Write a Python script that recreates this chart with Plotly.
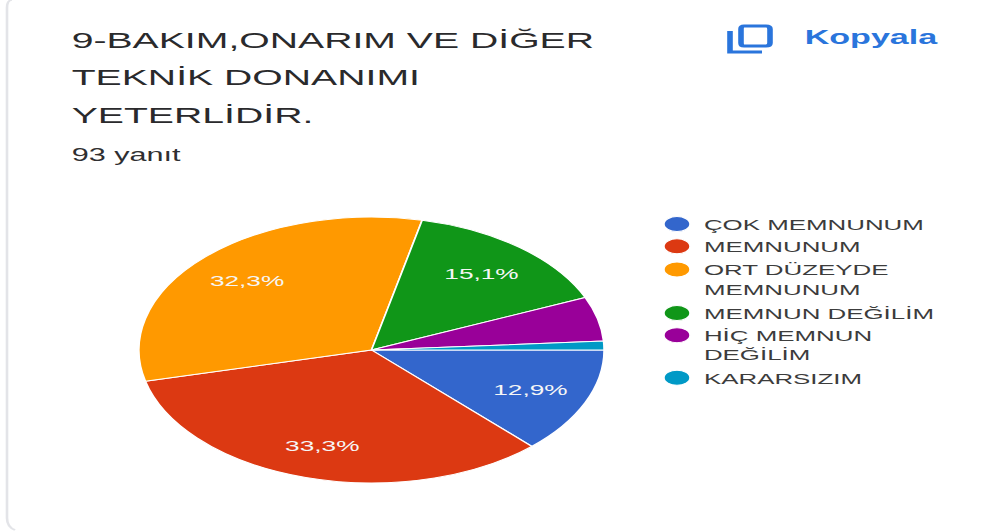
import math
import plotly.graph_objects as go

# Data
categories = ["ÇOK MEMNUNUM", "MEMNUNUM", "ORT DÜZEYDE<br>MEMNUNUM", "MEMNUN DEĞİLİM",
              "HİÇ MEMNUN<br>DEĞİLİM", "KARARSIZIM"]
counts = [12, 31, 30, 14, 5, 1]
slice_labels = ["12,9%", "33,3%", "32,3%", "15,1%", "", ""]
colors = ["#3366cc", "#dc3912", "#ff9900", "#109618", "#990099", "#0099c6"]
title_lines = ["9-BAKIM,ONARIM VE DİĞER", "TEKNİK DONANIMI", "YETERLİDİR."]
subtitle = "93 yanıt"
copy_label = "Kopyala"

# The reference is a screenshot stretched horizontally: lay out at natural
# proportions, then stretch the whole plot to the window width.
W, H = 574, 531
K = 1004 / W
FONT = "Liberation Sans"


def px(x):
    return x / K / W


def py(y):
    return 1 - y / H


cx, cy, r = 371.5, 350, 133
fig = go.Figure(go.Pie(
    labels=categories, values=counts, textinfo="none",
    sort=False, direction="clockwise", rotation=90,
    marker=dict(colors=colors, line=dict(color="white", width=1)),
    automargin=False, hoverinfo="label+percent",
    domain=dict(x=[px(cx) - r / W, px(cx) + r / W],
                y=[py(cy) - r / H, py(cy) + r / H]),
))

annotations = []
for line, y in zip(title_lines, [40, 78, 115]):
    annotations.append(dict(text=line, x=px(68), y=py(y), xanchor="left", yanchor="middle",
                            font=dict(family=FONT, size=22.4, color="#2a2a2c")))
annotations.append(dict(text=subtitle, x=px(68), y=py(155), xanchor="left", yanchor="middle",
                        font=dict(family=FONT, size=17.5, color="#2f2f31")))
annotations.append(dict(text=copy_label, x=px(801), y=py(37), xanchor="left", yanchor="middle",
                        font=dict(family=FONT, size=19.5, color="#2a75dc", weight="bold")))

# Slice labels sit on a fixed fraction of the radius, at each slice's mid-angle
total = sum(counts)
running = 0
for value, label in zip(counts, slice_labels):
    mid = (running + value / 2) / total * 2 * math.pi
    running += value
    if label:
        annotations.append(dict(
            text=label,
            x=px(cx) + 0.745 * r / W * math.cos(mid),
            y=py(cy) - 0.745 * r / H * math.sin(mid),
            xanchor="center", yanchor="middle",
            font=dict(family=FONT, size=15, color="#f6f6f6"),
        ))
for a in annotations:
    a.update(xref="paper", yref="paper", showarrow=False)


def P(x, y):
    return f"{px(x):.5f},{py(y):.5f}"


ICON = dict(color="#2a75dc", width=3.2)
shapes = [
    # card edge
    dict(type="path", xref="paper", yref="paper", line=dict(color="#e3e4e8", width=1.5),
         path=f"M{P(12, 0)} Q{P(7, 0)} {P(7, 8)} L{P(7, 518)} Q{P(7, 527)} {P(15, 530)}"),
    # copy icon
    dict(type="path", xref="paper", yref="paper", line=ICON,
         path=f"M{P(744, 26)} L{P(766, 26)} Q{P(770, 26)} {P(770, 29)} L{P(770, 43)} "
              f"Q{P(770, 46)} {P(766, 46)} L{P(744, 46)} Q{P(741, 46)} {P(741, 43)} "
              f"L{P(741, 29)} Q{P(741, 26)} {P(744, 26)} Z"),
    dict(type="path", xref="paper", yref="paper", line=ICON,
         path=f"M{P(730, 31)} L{P(730, 52)} L{P(762, 52)}"),
]

fig.update_layout(
    width=W, height=H, autosize=False,
    margin=dict(l=0, r=0, t=0, b=0),
    paper_bgcolor="white",
    annotations=annotations, shapes=shapes,
    showlegend=True,
    legend=dict(x=px(642), y=py(209), xanchor="left", yanchor="top",
                font=dict(family=FONT, size=14.8, color="#3c3c3c"),
                itemclick=False, itemdoubleclick=False, traceorder="normal"),
)

post = f"""
document.body.style.margin='0';
document.body.style.overflow='hidden';
var gd=document.getElementById('{{plot_id}}');
gd.style.transformOrigin='0 0';
gd.style.transform='scaleX({K:.5f})';
var nudge=[-1,-1,0,2,2,3];
gd.querySelectorAll('.legend .traces').forEach(function(t,i){{
  var lines=t.querySelectorAll('tspan.line').length;
  var cy=lines>1?-9.75:0;
  var p=t.querySelector('path.legendpie');
  if(p)p.setAttribute('d','M7.5,'+cy+'A7.5,7.5 0 1,1 -7.5,'+cy+'A7.5,7.5 0 1,1 7.5,'+cy+'Z');
  var txt=t.querySelector('text.legendtext');
  if(txt)txt.setAttribute('transform','translate(-4.6,0)');
  t.setAttribute('transform',(t.getAttribute('transform')||'')+' translate(0,'+nudge[i]+')');
}});
"""
fig.write_html("out.html", post_script=post, config={"displayModeBar": False, "responsive": False})
